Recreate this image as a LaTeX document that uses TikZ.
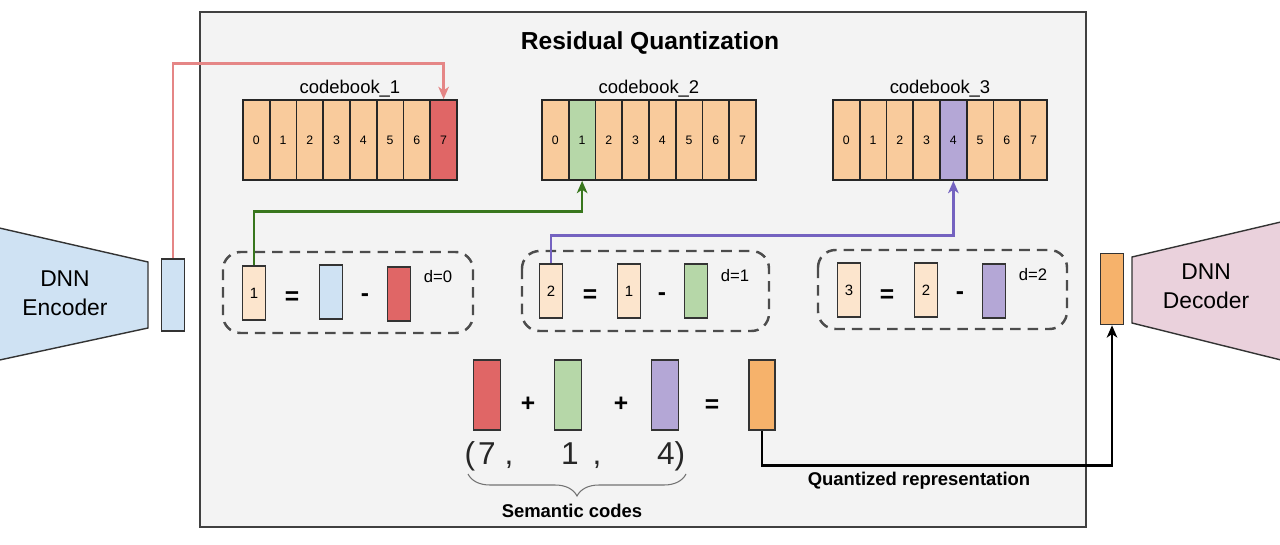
\documentclass[tikz,border=0pt]{standalone}
\usepackage{fontspec}
\setmainfont{Liberation Sans}
\usetikzlibrary{positioning, arrows.meta, decorations.pathreplacing}

\definecolor{panelgray}{HTML}{F3F3F3}
\definecolor{peach}{HTML}{F9CB9C}
\definecolor{lightpeach}{HTML}{FCE5CD}
\definecolor{codered}{HTML}{E06666}
\definecolor{codegreen}{HTML}{B6D7A8}
\definecolor{codepurple}{HTML}{B4A7D6}
\definecolor{encblue}{HTML}{CFE2F3}
\definecolor{decpink}{HTML}{EAD1DC}
\definecolor{quantorange}{HTML}{F6B26B}
\definecolor{redline}{HTML}{E58686}
\definecolor{greenline}{HTML}{38761D}
\definecolor{purpleline}{HTML}{7462C0}

\tikzset{
  cell/.style={draw=black!85, line width=1pt, fill=peach, minimum width=0.535cm,
    minimum height=1.6cm, inner sep=0pt, font=\fontsize{7}{8}\selectfont},
  vec/.style={draw=black!80, line width=0.9pt, minimum width=0.46cm,
    minimum height=1.08cm, inner sep=0pt, font=\fontsize{8.5}{10}\selectfont},
  bigvec/.style={vec, minimum width=0.54cm, minimum height=1.4cm},
  group/.style={draw=black!70, dash pattern=on 6pt off 4pt, line width=1.4pt,
    rounded corners=0.35cm},
  op/.style={inner sep=0pt, font=\fontsize{14}{14}\selectfont\bfseries},
  dlabel/.style={inner sep=0pt, font=\fontsize{9.5}{11}\selectfont},
  cbtitle/.style={inner sep=0pt, font=\fontsize{10.5}{12}\selectfont},
  dnn/.style={align=center, font=\fontsize{13}{16.5}\selectfont},
  codes/.style={inner sep=0pt, text height=13pt, text depth=4pt, text=black!85,
    font=\fontsize{18}{20}\selectfont},
  note/.style={inner sep=0pt, font=\fontsize{10.5}{12}\selectfont\bfseries},
  link/.style={line width=1.5pt, -{Stealth[length=7pt, width=6pt, inset=2pt]}},
  netshape/.style={draw=black!80, line width=0.8pt}
}

\begin{document}
\begin{tikzpicture}[x=0.02cm, y=-0.02cm]
    \useasboundingbox (0,0) rectangle (1280,544);
    % panel
    \draw[draw=black!75, line width=1pt, fill=panelgray] (200,12) rectangle (1086,527);
    \node[inner sep=0pt, font=\fontsize{14}{16}\selectfont\bfseries] (title) at (650,43) {Residual Quantization};

    % codebooks
    \foreach \k/\x/\hl/\c in {1/243/7/codered, 2/542/1/codegreen, 3/833/4/codepurple} {
        \node[cbtitle] (cbt\k) at ({\x+107},89) {codebook\_\k};
        \foreach \i in {0,...,7} {
            \ifnum\i=\hl \def\fc{\c}\else\def\fc{peach}\fi
            \node[cell, fill=\fc] (cb\k-\i) at ({\x+13.375+26.75*\i},140) {\i};
        }
    }

    % encoder / decoder
    \draw[netshape, fill=encblue] (-5,227) -- (148,262) -- (148,328) -- (-5,361) -- cycle;
    \node[dnn] (enc) at (65,293) {DNN\\Encoder};
    \node[vec, fill=encblue, minimum height=1.44cm] (encvec) at (173,295) {};
    \draw[netshape, fill=decpink] (1285,221) -- (1132,257) -- (1132,323) -- (1285,361) -- cycle;
    \node[dnn] (dec) at (1206,286) {DNN\\Decoder};
    \node[vec, fill=quantorange, minimum height=1.42cm] (decvec) at (1112,289) {};

    % residual steps
    \draw[group] (223,252) rectangle (473,333);
    \node[vec, fill=lightpeach] (g1a) at (254,293) {1};
    \node[op] (g1eq) at (292,298) {=};
    \node[vec, fill=encblue] (g1b) at (331,292) {};
    \node[op] (g1mi) at (365,298) {-};
    \node[vec, fill=codered] (g1c) at (399,294) {};
    \node[dlabel] (g1d) at (438,277) {d=0};

    \draw[group] (522,251) rectangle (769,331);
    \node[vec, fill=lightpeach] (g2a) at (551,291) {2};
    \node[op] (g2eq) at (590,296) {=};
    \node[vec, fill=lightpeach] (g2b) at (629,291) {1};
    \node[op] (g2mi) at (662,297) {-};
    \node[vec, fill=codegreen] (g2c) at (696,291) {};
    \node[dlabel] (g2d) at (735,276) {d=1};

    \draw[group] (818,250) rectangle (1067,329);
    \node[vec, fill=lightpeach] (g3a) at (849,290) {3};
    \node[op] (g3eq) at (887,296) {=};
    \node[vec, fill=lightpeach] (g3b) at (926,290) {2};
    \node[op] (g3mi) at (960,296) {-};
    \node[vec, fill=codepurple] (g3c) at (994,291) {};
    \node[dlabel] (g3d) at (1033,275) {d=2};

    % sum of codewords
    \node[bigvec, fill=codered] (s1) at (487,395) {};
    \node[op] (p1) at (528,404) {+};
    \node[bigvec, fill=codegreen] (s2) at (568,395) {};
    \node[op] (p2) at (621,404) {+};
    \node[bigvec, fill=codepurple] (s3) at (665,395) {};
    \node[op] (eq) at (712,406) {=};
    \node[bigvec, fill=quantorange, minimum width=0.52cm] (qvec) at (762,395) {};

    \node[codes] (lp) at (470,457) {(};
    \node[codes] (c7) at (487,457) {7};
    \node[codes] (k1) at (509,457) {,};
    \node[codes] (c1) at (570,457) {1};
    \node[codes] (k2) at (597,457) {,};
    \node[codes] (c4) at (666,457) {4};
    \node[codes] (rp) at (680,457) {)};
    \draw[decorate, decoration={brace, mirror, amplitude=0.44cm}, draw=black!55, line width=0.6pt]
        (468,474) -- (686,474);
    \node[note] (sem) at (572,511) {Semantic codes};
    \node[note] (qrep) at (919,481) {Quantized representation};

    % connectors
    \draw[link, redline] (encvec.north) -- ++(0,-195) -| (cb1-7.north);
    \draw[link, greenline] (g1a.north) -- ++(0,-54) -| (cb2-1.south);
    \draw[link, purpleline] (g2a.north) -- ++(0,-28) -| (cb3-4.south);
    \draw[link, black] (qvec.south) -- ++(0,35) -| (decvec.south);
\end{tikzpicture}
\end{document}
